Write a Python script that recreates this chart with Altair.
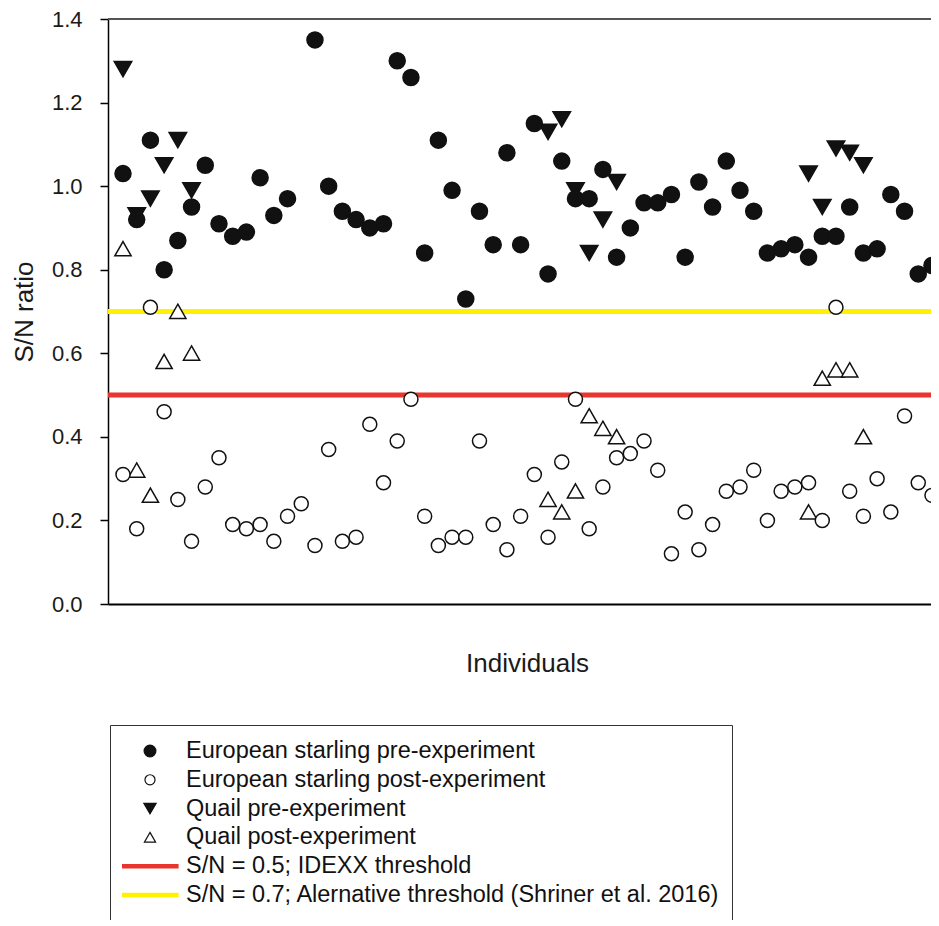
import altair as alt
import pandas as pd

# ---- data ----
individuals = list(range(1, 61))
starling_pre = [1.03, 0.92, 1.11, 0.80, 0.87, 0.95, 1.05, 0.91, 0.88, 0.89,
                1.02, 0.93, 0.97, None, 1.35, 1.00, 0.94, 0.92, 0.90, 0.91,
                1.30, 1.26, 0.84, 1.11, 0.99, 0.73, 0.94, 0.86, 1.08, 0.86,
                1.15, 0.79, 1.06, 0.97, 0.97, 1.04, 0.83, 0.90, 0.96, 0.96,
                0.98, 0.83, 1.01, 0.95, 1.06, 0.99, 0.94, 0.84, 0.85, 0.86,
                0.83, 0.88, 0.88, 0.95, 0.84, 0.85, 0.98, 0.94, 0.79, 0.81]
starling_post = [0.31, 0.18, 0.71, 0.46, 0.25, 0.15, 0.28, 0.35, 0.19, 0.18,
                 0.19, 0.15, 0.21, 0.24, 0.14, 0.37, 0.15, 0.16, 0.43, 0.29,
                 0.39, 0.49, 0.21, 0.14, 0.16, 0.16, 0.39, 0.19, 0.13, 0.21,
                 0.31, 0.16, 0.34, 0.49, 0.18, 0.28, 0.35, 0.36, 0.39, 0.32,
                 0.12, 0.22, 0.13, 0.19, 0.27, 0.28, 0.32, 0.20, 0.27, 0.28,
                 0.29, 0.20, 0.71, 0.27, 0.21, 0.30, 0.22, 0.45, 0.29, 0.26]
quail_idx = [1, 2, 3, 4, 5, 6, 32, 33, 34, 35, 36, 37, 51, 52, 53, 54, 55]
quail_pre = [1.28, 0.93, 0.97, 1.05, 1.11, 0.99, 1.13, 1.16, 0.99, 0.84, 0.92,
             1.01, 1.03, 0.95, 1.09, 1.08, 1.05]
quail_post = [0.85, 0.32, 0.26, 0.58, 0.70, 0.60, 0.25, 0.22, 0.27, 0.45, 0.42,
              0.40, 0.22, 0.54, 0.56, 0.56, 0.40]
thresholds = [0.5, 0.7]
y_ticks = [0.0, 0.2, 0.4, 0.6, 0.8, 1.0, 1.2, 1.4]

groups = [
    "European starling pre-experiment",
    "European starling post-experiment",
    "Quail pre-experiment",
    "Quail post-experiment",
    "S/N = 0.5; IDEXX threshold",
    "S/N = 0.7; Alernative threshold (Shriner et al. 2016)",
]

rows = []
for i, v in zip(quail_idx, quail_pre):
    rows.append({"ind": i, "sn": v, "group": groups[2]})
for i, v in zip(quail_idx, quail_post):
    rows.append({"ind": i, "sn": v, "group": groups[3]})
for i, v in zip(individuals, starling_pre):
    if v is not None:
        rows.append({"ind": i, "sn": v, "group": groups[0]})
for i, v in zip(individuals, starling_post):
    if v is not None:
        rows.append({"ind": i, "sn": v, "group": groups[1]})
df = pd.DataFrame(rows)

# ---- styling ----
RED = "#e8352e"
YELLOW = "#fff100"
INK = "#111111"
FONT = "Liberation Sans"

circ_f = "M0.21,0A0.21,0.21,0,1,1,-0.21,0A0.21,0.21,0,1,1,0.21,0Z"
circ_o = "M0.18,0A0.18,0.18,0,1,1,-0.18,0A0.18,0.18,0,1,1,0.18,0Z"
tri_down = "M-0.22,-0.19L0.22,-0.19L0,0.19Z"
tri_up = "M0,-0.18L0.2,0.17L-0.2,0.17Z"
line_sym = "M-1,-0.06L1,-0.06L1,0.06L-1,0.06Z"

shape_range = [circ_f, circ_o, tri_down, tri_up, line_sym, line_sym]
fill_range = [INK, "#ffffff", INK, "#ffffff", RED, YELLOW]
stroke_range = [INK, INK, INK, INK, RED, YELLOW]
size_range = [5806, 6590, 4650, 5330]

x_scale = alt.Scale(domain=[-0.094, 59.93], nice=False, zero=False)
y_scale = alt.Scale(domain=[0, 1.4], nice=False, zero=False)

y_axis = alt.Axis(
    values=y_ticks, format=".1f", title="S/N ratio", grid=False,
    domainColor="#000000", domainWidth=1.5, tickColor="#000000", tickWidth=1.5,
    tickSize=8, labelFontSize=22, labelColor="#1a1a1a", labelPadding=18,
    labelFont=FONT, titleFont=FONT, titleFontSize=26, titleFontWeight="normal",
    titleColor="#1a1a1a", titleX=-71, titleY=292.5,
)
x_axis = alt.Axis(
    labels=False, ticks=False, grid=False, title="Individuals",
    domainColor="#000000", domainWidth=2, titleFont=FONT, titleFontSize=26,
    titleFontWeight="normal", titleColor="#1a1a1a", titlePadding=46, titleX=419,
)

legend = alt.Legend(
    title=None, orient="none", legendX=2, legendY=706, direction="vertical",
    padding=12, clipHeight=28, rowPadding=0.8, symbolSize=3136,
    symbolStrokeWidth=1.2, symbolOffset=-1, labelOffset=7, labelFont=FONT,
    labelFontSize=23.5, labelColor=INK, labelLimit=900, strokeColor="#333333",
    fillColor="#ffffff", symbolOpacity=1,
)

frame_df = pd.DataFrame({"y": [y_ticks[-1]]})
red_df = pd.DataFrame({"y": [thresholds[0]]})
yellow_df = pd.DataFrame({"y": [thresholds[1]]})

top_border = alt.Chart(frame_df).mark_rule(color="#555555", strokeWidth=2).encode(
    y=alt.Y("y:Q", scale=y_scale, axis=y_axis)
)
yellow_line = alt.Chart(yellow_df).mark_rule(color=YELLOW, strokeWidth=5).encode(
    y=alt.Y("y:Q", scale=y_scale, axis=y_axis)
)
red_line = alt.Chart(red_df).mark_rule(color=RED, strokeWidth=5).encode(
    y=alt.Y("y:Q", scale=y_scale, axis=y_axis)
)

points = alt.Chart(df).mark_point(filled=True, opacity=1, strokeWidth=1.5).encode(
    x=alt.X("ind:Q", scale=x_scale, axis=x_axis),
    y=alt.Y("sn:Q", scale=y_scale, axis=y_axis),
    shape=alt.Shape("group:N", scale=alt.Scale(domain=groups, range=shape_range), legend=legend),
    fill=alt.Fill("group:N", scale=alt.Scale(domain=groups, range=fill_range), legend=legend),
    stroke=alt.Stroke("group:N", scale=alt.Scale(domain=groups, range=stroke_range), legend=legend),
    size=alt.Size("group:N", scale=alt.Scale(domain=groups[:4], range=size_range), legend=None),
)

chart = alt.layer(top_border, yellow_line, red_line, points).properties(
    width=823,
    height=585,
    padding={"left": 100, "top": 11, "right": 0, "bottom": 316},
    autosize=alt.AutoSizeParams(type="none"),
).configure_view(stroke=None).configure(font=FONT)

chart.save("out.html", embed_options={"renderer": "svg", "actions": False})
